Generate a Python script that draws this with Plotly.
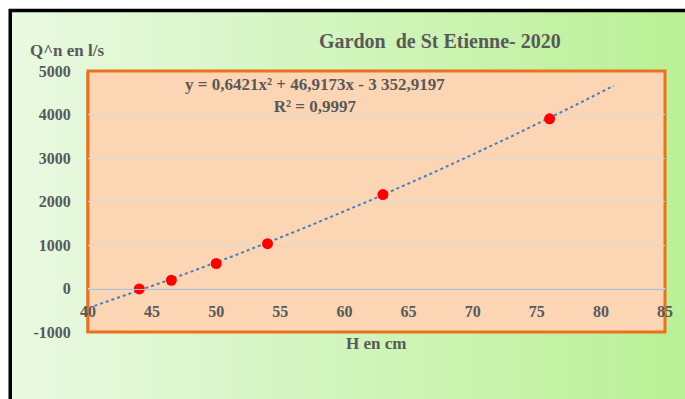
import numpy as np
import plotly.graph_objects as go

# Measured stage (cm) and discharge (l/s)
hauteur_cm = [44, 46.5, 50, 54, 63, 76]
debit_ls = [-10, 190, 575, 1030, 2160, 3900]

# Polynomial trend (order 2) as reported on the chart
coef_a, coef_b, coef_c = 0.6421, 46.9173, -3352.9197
r2_text = "0,9997"
trend_from, trend_to = 40.5, 81

x_ticks = [40, 45, 50, 55, 60, 65, 70, 75, 80, 85]
y_ticks = [-1000, 0, 1000, 2000, 3000, 4000, 5000]

W, H = 685, 399
PL, PR, PT, PB = 88, 667, 71, 332  # plot area in pixels
PW, PH = PR - PL, PB - PT


def fx(x):
    return (x - PL) / PW


def fy(y):
    return (PB - y) / PH


GREY = "#595959"
FONT = "Liberation Serif"

hx = np.linspace(trend_from, trend_to, 200)
hy = coef_a * hx ** 2 + coef_b * hx + coef_c

fig = go.Figure()
fig.add_trace(go.Scatter(
    x=hx, y=hy, mode="lines",
    line=dict(color="#4a7ebb", width=2, dash="dot"),
    hoverinfo="skip", showlegend=False,
))
fig.add_trace(go.Scatter(
    x=hauteur_cm, y=debit_ls, mode="markers",
    marker=dict(color="#ff0000", size=11, line=dict(width=0)),
    showlegend=False,
))

shapes = []
# horizontal green gradient behind the chart
left_rgb = np.array([233, 249, 226])
right_rgb = np.array([186, 240, 150])
n = 70
edges = np.linspace(8, W + 5, n + 1)
for i in range(n):
    t = i / (n - 1)
    c = (left_rgb * (1 - t) + right_rgb * t).round().astype(int)
    shapes.append(dict(
        type="rect", xref="paper", yref="paper", layer="below",
        x0=fx(edges[i]), x1=fx(edges[i + 1] + 0.6), y0=fy(H + 5), y1=fy(9),
        fillcolor=f"rgb({c[0]},{c[1]},{c[2]})", line=dict(width=0),
    ))
# black frame (top and left visible)
shapes.append(dict(
    type="rect", xref="paper", yref="paper", layer="below",
    x0=fx(10), x1=fx(W + 20), y0=fy(H + 20), y1=fy(10.5),
    line=dict(color="#000000", width=3.5), fillcolor="rgba(0,0,0,0)",
))
# plot area: shadow, peach fill, orange border
shapes.append(dict(
    type="rect", xref="paper", yref="paper", layer="below",
    x0=fx(PL - 2), x1=fx(PR - 2), y0=fy(PB + 1), y1=fy(PT + 1),
    fillcolor="#d9b48f", line=dict(width=0),
))
shapes.append(dict(
    type="rect", xref="paper", yref="paper", layer="below",
    x0=0, x1=1, y0=0, y1=1,
    fillcolor="#fcd5b4", line=dict(color="#e8731a", width=3),
))

equation = (f"y = {coef_a:.4f}".replace(".", ",") + "x² + "
            + f"{coef_b:.4f}".replace(".", ",") + "x - 3 352,9197")

annotations = [
    dict(text="Gardon  de St Etienne- 2020", x=fx(441), y=fy(41),
         font=dict(size=20, color=GREY, family=FONT, weight="bold")),
    dict(text="Q^n en l/s", x=fx(67), y=fy(50),
         font=dict(size=17, color=GREY, family=FONT, weight="bold")),
    dict(text="H en cm", x=fx(377), y=fy(343),
         font=dict(size=17, color=GREY, family=FONT, weight="bold")),
    dict(text=f"{equation}<br>R² = {r2_text}", align="center",
         x=fx(316), y=fy(95),
         font=dict(size=17, color=GREY, family=FONT, weight="bold")),
]
for a in annotations:
    a.update(xref="paper", yref="paper", showarrow=False,
             xanchor="center", yanchor="middle")

fig.update_layout(
    width=W, height=H,
    margin=dict(l=PL, r=W - PR, t=PT, b=H - PB, pad=0),
    paper_bgcolor="#ffffff",
    plot_bgcolor="rgba(0,0,0,0)",
    shapes=shapes,
    annotations=annotations,
    showlegend=False,
    xaxis=dict(
        range=[40, 85], tickvals=x_ticks, ticktext=[str(v) for v in x_ticks],
        anchor="free", position=1000 / 6000,
        showgrid=False, zeroline=False,
        showline=True, linecolor="#bfbfbf", linewidth=1,
        ticks="outside", ticklen=8, tickcolor="rgba(0,0,0,0)",
        tickfont=dict(size=16, color=GREY, family=FONT, weight="bold"),
    ),
    yaxis=dict(
        range=[-1000, 5000], tickvals=y_ticks, ticktext=[str(v) for v in y_ticks],
        showgrid=True, gridcolor="#d9d9d9", gridwidth=1, zeroline=False,
        showline=False,
        ticks="outside", ticklen=13, tickcolor="rgba(0,0,0,0)",
        tickfont=dict(size=16, color=GREY, family=FONT, weight="bold"),
    ),
)

fig.write_html("out.html")
